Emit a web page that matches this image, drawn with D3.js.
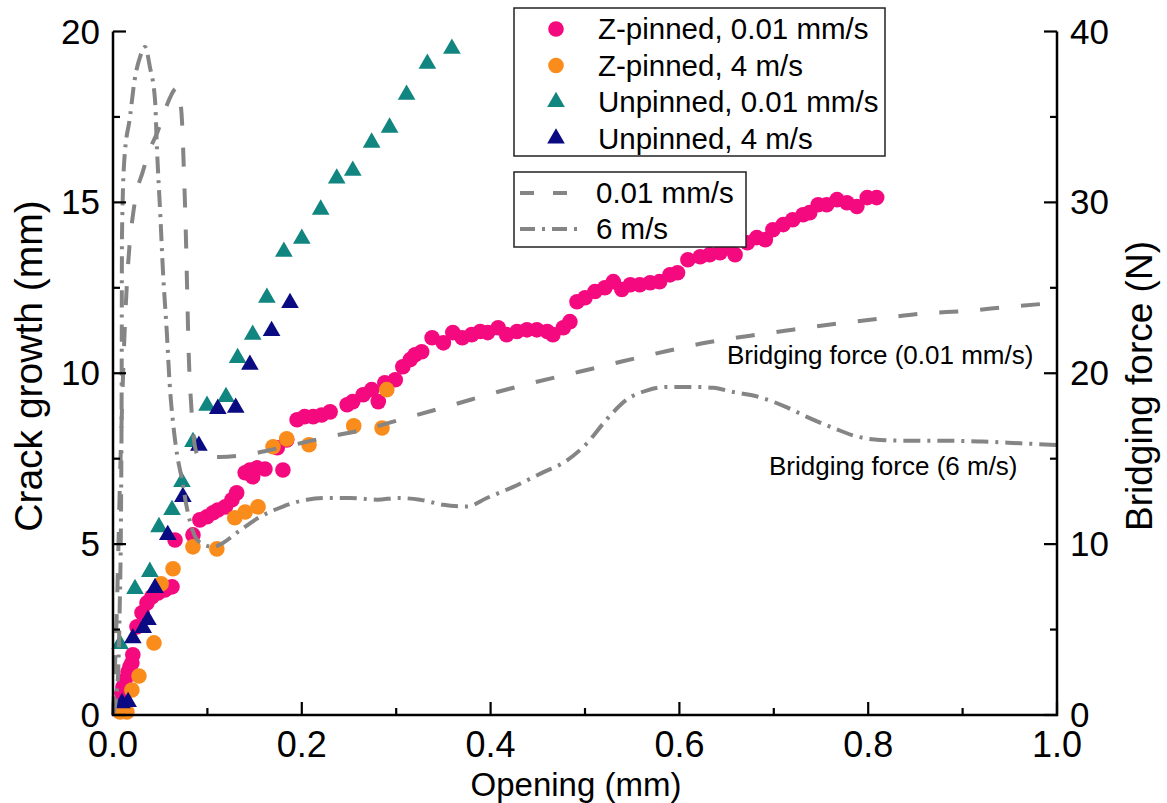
<!DOCTYPE html>
<html>
<head>
<meta charset="utf-8">
<script src="https://cdn.jsdelivr.net/npm/d3@7"></script>
<style>
  html, body { margin: 0; padding: 0; background: #fff; }
  svg { display: block; font-family: "Liberation Sans", Arial, sans-serif; }
</style>
</head>
<body>
<svg id="chart" width="1167" height="803"></svg>
<script>
// ---------------- DATA ----------------
// [opening (mm), crack growth (mm)]
const zPinnedSlow = [
  [0.0074,0.35],[0.0095,0.64],[0.0106,0.82],[0.0127,1.02],[0.0159,1.26],[0.018,1.41],[0.020,1.52],[0.021,1.76],
  [0.0254,2.58],[0.0307,2.99],[0.036,3.28],[0.0413,3.46],[0.0477,3.57],[0.055,3.66],[0.0625,3.75],
  [0.0657,5.12],[0.0847,5.27],[0.092,5.71],[0.0996,5.80],[0.106,5.92],[0.111,6.00],[0.119,6.09],[0.126,6.30],
  [0.131,6.50],[0.140,7.09],[0.145,7.17],[0.148,6.97],[0.1525,7.23],[0.161,7.20],[0.180,7.17],[0.174,7.82],
  [0.184,8.05],[0.195,8.64],[0.203,8.73],[0.212,8.73],[0.221,8.78],[0.230,8.87],[0.248,9.08],[0.254,9.17],
  [0.265,9.37],[0.274,9.52],[0.281,9.17],[0.288,9.72],[0.299,9.81],[0.307,10.19],[0.315,10.40],[0.320,10.54],
  [0.327,10.63],[0.338,11.04],[0.350,10.89],[0.360,11.19],[0.370,11.04],[0.380,11.13],[0.389,11.22],[0.397,11.19],
  [0.408,11.33],[0.417,11.13],[0.428,11.22],[0.4385,11.27],[0.449,11.27],[0.460,11.22],[0.466,11.13],[0.477,11.33],
  [0.484,11.51],[0.4915,12.09],[0.500,12.21],[0.5106,12.39],[0.521,12.50],[0.530,12.68],[0.539,12.45],[0.548,12.59],
  [0.558,12.59],[0.569,12.65],[0.579,12.68],[0.590,12.88],[0.598,12.94],[0.609,13.32],[0.622,13.41],[0.632,13.47],
  [0.643,13.53],[0.650,13.67],[0.659,13.47],[0.672,13.82],[0.682,13.97],[0.691,13.91],[0.699,14.20],[0.710,14.35],
  [0.720,14.49],[0.731,14.64],[0.738,14.70],[0.747,14.93],[0.756,14.93],[0.767,15.08],[0.7775,14.99],[0.788,14.88],
  [0.799,15.14],[0.809,15.14]
];
const zPinnedFast = [
  [0.0074,0.09],[0.0148,0.09],[0.020,0.73],[0.0275,1.14],[0.0434,2.11],[0.051,3.84],[0.0636,4.28],
  [0.0847,4.92],[0.110,4.86],[0.129,5.77],[0.140,5.94],[0.1536,6.09],[0.1695,7.85],[0.184,8.08],
  [0.2076,7.91],[0.255,8.46],[0.285,8.40],[0.290,9.52]
];
const unpinnedSlow = [
  [0.0074,2.08],[0.0233,3.69],[0.039,4.19],[0.0487,5.50],[0.0625,6.00],[0.073,6.82],[0.0847,7.99],
  [0.0996,9.05],[0.1197,9.31],[0.132,10.45],[0.148,11.13],[0.163,12.21],[0.181,13.56],[0.200,13.94],
  [0.220,14.79],[0.237,15.70],[0.254,15.93],[0.274,16.75],[0.293,17.19],[0.311,18.15],[0.333,19.06],[0.359,19.50]
];
const unpinnedFast = [
  [0.0095,0.35],[0.016,0.38],[0.021,2.25],[0.032,2.55],[0.037,2.78],[0.0445,3.72],[0.058,5.27],
  [0.074,6.38],[0.091,7.88],[0.111,8.96],[0.130,8.99],[0.145,10.25],[0.168,11.24],[0.1875,12.06]
];
// [opening (mm), bridging force (N)]
const forceSlow = [
  [0,0],[0.004,6],[0.008,15],[0.012,22],[0.015,25.5],[0.018,27.8],[0.021,29.2],[0.025,30.6],[0.031,31.7],
  [0.039,33.1],[0.047,34.1],[0.055,35.4],[0.068,36.7],[0.072,35.6],[0.0735,34.3],[0.075,32],[0.077,28.5],
  [0.0785,25],[0.080,21.5],[0.083,18],[0.086,16],[0.09,15.2],[0.095,15.1],[0.113,15.1],[0.138,15.2],
  [0.174,15.6],[0.222,16.2],[0.269,16.75],[0.315,17.45],[0.360,18.15],[0.407,18.9],[0.449,19.5],[0.495,20.1],
  [0.540,20.7],[0.587,21.3],[0.629,21.8],[0.675,22.2],[0.720,22.55],[0.767,22.9],[0.8125,23.2],[0.858,23.5],
  [0.905,23.65],[0.950,23.9],[0.995,24.1]
];
const forceFast = [
  [0,0],[0.005,2],[0.007,6],[0.0085,12],[0.0092,20],[0.0095,28],[0.012,32.5],[0.018,35.0],[0.023,37.2],
  [0.0286,38.5],[0.034,39.1],[0.039,37.95],[0.0445,36.0],[0.0466,33.1],[0.050,29.4],[0.053,25.9],[0.057,22.4],
  [0.060,19.4],[0.064,16.9],[0.068,15.2],[0.073,13.8],[0.078,12.2],[0.085,10.7],[0.092,10.1],[0.106,9.84],
  [0.1165,10.07],[0.131,10.66],[0.156,11.6],[0.180,12.2],[0.2055,12.6],[0.227,12.7],[0.251,12.7],[0.280,12.6],
  [0.301,12.7],[0.325,12.6],[0.350,12.3],[0.375,12.2],[0.396,12.7],[0.424,13.35],[0.4555,14.2],[0.481,14.9],
  [0.502,15.9],[0.523,17.3],[0.544,18.45],[0.566,19.0],[0.587,19.2],[0.614,19.2],[0.636,19.15],[0.657,18.9],
  [0.685,18.6],[0.714,18.0],[0.735,17.45],[0.763,16.8],[0.788,16.3],[0.8125,16.1],[0.847,16.05],[0.8835,16.05],
  [0.9216,16.0],[0.961,15.9],[1.0,15.8]
];
const xTicks = [0, 0.2, 0.4, 0.6, 0.8, 1.0];
const xMinorTicks = [0.1, 0.3, 0.5, 0.7, 0.9];
const yLeftTicks = [0, 5, 10, 15, 20];
const yLeftMinor = [2.5, 7.5, 12.5, 17.5];
const yRightTicks = [0, 10, 20, 30, 40];
const yRightMinor = [5, 15, 25, 35];
const scatterLegend = ["Z-pinned, 0.01 mm/s", "Z-pinned, 4 m/s", "Unpinned, 0.01 mm/s", "Unpinned, 4 m/s"];
const lineLegend = ["0.01 mm/s", "6 m/s"];

// ---------------- LAYOUT ----------------
const svg = d3.select("#chart");
const L = 113, R = 1057, T = 31.5, B = 715;
const x = d3.scaleLinear().domain([0, 1]).range([L, R]);
const yL = d3.scaleLinear().domain([0, 20]).range([B, T]);
const yR = d3.scaleLinear().domain([0, 40]).range([B, T]);

const colPink = "#F5097F", colOrange = "#FA8C1C", colTeal = "#11857F", colNavy = "#0A0A82", colGrey = "#858585";
const dashSlow = "19,22", dashFast = "17,7,3,7";

// ---------------- MARKERS ----------------
const tri = d3.symbol().type(d3.symbolTriangle).size(135);
function circles(data, color) {
  svg.append("g").selectAll("circle").data(data).join("circle")
    .attr("cx", d => x(d[0])).attr("cy", d => yL(d[1])).attr("r", 7.8).attr("fill", color);
}
function triangles(data, color) {
  svg.append("g").selectAll("path").data(data).join("path")
    .attr("d", tri).attr("transform", d => `translate(${x(d[0])},${yL(d[1])})`).attr("fill", color);
}
circles(zPinnedSlow, colPink);
circles(zPinnedFast, colOrange);
triangles(unpinnedSlow, colTeal);
triangles(unpinnedFast, colNavy);

// ---------------- LINES ----------------
const line = d3.line().x(d => x(d[0])).y(d => yR(d[1])).curve(d3.curveMonotoneX);
svg.append("path").datum(forceSlow).attr("d", line).attr("fill", "none")
  .attr("stroke", colGrey).attr("stroke-width", 4).attr("stroke-dasharray", dashSlow);
svg.append("path").datum(forceFast).attr("d", line).attr("fill", "none")
  .attr("stroke", colGrey).attr("stroke-width", 4).attr("stroke-dasharray", dashFast);

// ---------------- AXES ----------------
const axisG = svg.append("g").attr("stroke", "#000").attr("stroke-width", 2.5).attr("fill", "none");
axisG.append("path").attr("d", `M${L},${T}V${B}H${R}V${T}`);
const tickG = svg.append("g").attr("stroke", "#000").attr("stroke-width", 2.2);
xTicks.forEach(v => tickG.append("line").attr("x1", x(v)).attr("x2", x(v)).attr("y1", B).attr("y2", B - 13));
xMinorTicks.forEach(v => tickG.append("line").attr("x1", x(v)).attr("x2", x(v)).attr("y1", B).attr("y2", B - 7));
yLeftTicks.forEach(v => tickG.append("line").attr("x1", L).attr("x2", L + 13).attr("y1", yL(v)).attr("y2", yL(v)));
yLeftMinor.forEach(v => tickG.append("line").attr("x1", L).attr("x2", L + 7).attr("y1", yL(v)).attr("y2", yL(v)));
yRightTicks.forEach(v => tickG.append("line").attr("x1", R).attr("x2", R - 13).attr("y1", yR(v)).attr("y2", yR(v)));
yRightMinor.forEach(v => tickG.append("line").attr("x1", R).attr("x2", R - 7).attr("y1", yR(v)).attr("y2", yR(v)));

const fmt1 = d3.format(".1f");
svg.append("g").selectAll("text").data(xTicks).join("text")
  .attr("x", d => x(d)).attr("y", 757).attr("text-anchor", "middle")
  .attr("font-size", 36).text(d => fmt1(d));
svg.append("g").selectAll("text").data(yLeftTicks).join("text")
  .attr("x", 100).attr("y", d => yL(d) + 12).attr("text-anchor", "end")
  .attr("font-size", 35).text(d => d);
svg.append("g").selectAll("text").data(yRightTicks).join("text")
  .attr("x", 1070).attr("y", d => yR(d) + 12).attr("text-anchor", "start")
  .attr("font-size", 35).text(d => d);

svg.append("text").attr("x", 576).attr("y", 796).attr("text-anchor", "middle")
  .attr("font-size", 33).text("Opening (mm)");
svg.append("text").attr("transform", "translate(42,366) rotate(-90)").attr("text-anchor", "middle")
  .attr("font-size", 39).text("Crack growth (mm)");
svg.append("text").attr("transform", "translate(1152,386) rotate(-90)").attr("text-anchor", "middle")
  .attr("font-size", 37).text("Bridging force (N)");

// annotations
svg.append("text").attr("x", 727).attr("y", 364).attr("font-size", 26).text("Bridging force (0.01 mm/s)");
svg.append("text").attr("x", 769).attr("y", 475).attr("font-size", 26).text("Bridging force (6 m/s)");

// ---------------- LEGENDS ----------------
const lg1 = svg.append("g");
lg1.append("rect").attr("x", 514).attr("y", 8).attr("width", 371).attr("height", 148)
  .attr("fill", "#fff").attr("stroke", "#222").attr("stroke-width", 1.5);
const legColors = [colPink, colOrange, colTeal, colNavy];
scatterLegend.forEach((t, i) => {
  const cy = 29 + i * 36.5;
  if (i < 2) lg1.append("circle").attr("cx", 556).attr("cy", cy).attr("r", 7.8).attr("fill", legColors[i]);
  else lg1.append("path").attr("d", tri).attr("transform", `translate(556,${cy})`).attr("fill", legColors[i]);
  lg1.append("text").attr("x", 598).attr("y", cy + 10).attr("font-size", 29.5).text(t);
});
const lg2 = svg.append("g");
lg2.append("rect").attr("x", 514).attr("y", 172).attr("width", 232).attr("height", 75)
  .attr("fill", "#fff").attr("stroke", "#222").attr("stroke-width", 1.5);
lineLegend.forEach((t, i) => {
  const cy = 193 + i * 36;
  lg2.append("line").attr("x1", 520).attr("x2", 584).attr("y1", cy).attr("y2", cy)
    .attr("stroke", colGrey).attr("stroke-width", 4)
    .attr("stroke-dasharray", i === 0 ? "14,19" : "15,7,3,7");
  lg2.append("text").attr("x", 596).attr("y", cy + 10).attr("font-size", 29.5).text(t);
});
</script>
</body>
</html>
